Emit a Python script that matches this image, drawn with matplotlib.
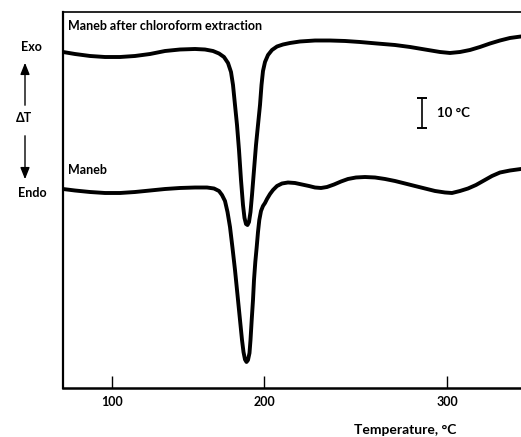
import numpy as np
import matplotlib
matplotlib.use("Agg")
import matplotlib.pyplot as plt

# ---- data (temperature in °C, signal in ΔT units) ----
temp_ext = [67.76, 75.66, 85.53, 95.39, 105.26, 115.13, 125.0, 134.87, 144.74,
            154.61, 161.18, 166.45, 170.39, 173.68, 176.32, 178.29, 179.61,
            180.92, 182.24, 183.55, 184.87, 186.18, 187.17, 188.16, 189.14,
            190.13, 191.12, 192.11, 193.42, 194.74, 196.05, 197.37, 198.36,
            199.34, 200.55, 202.19, 204.37, 207.10, 210.38, 214.21, 219.67,
            227.87, 236.07, 244.26, 252.46, 261.75, 271.58, 279.78, 287.98,
            296.17, 301.64, 307.10, 312.57, 318.03, 323.50, 328.96, 334.43,
            340.44]
dt_ext = [112.0, 111.33, 110.67, 110.33, 110.33, 110.67, 111.33, 112.33, 112.83,
          113.0, 112.83, 112.33, 111.5, 110.33, 108.33, 105.33, 101.0,
          94.33, 87.67, 79.33, 69.33, 61.0, 56.67, 54.67, 54.33,
          55.33, 58.67, 64.33, 72.67, 81.0, 87.67, 94.33, 101.0,
          105.67, 108.67, 111.0, 112.67, 113.83, 114.5, 115.0, 115.5,
          115.83, 115.83, 115.67, 115.33, 114.83, 114.33, 113.67, 112.83,
          112.0, 111.67, 112.0, 112.67, 113.67, 114.83, 115.83, 116.67,
          117.17]

temp_maneb = [67.76, 75.66, 85.53, 95.39, 105.26, 115.13, 125.0, 134.87, 144.74,
              154.61, 162.5, 167.11, 170.39, 172.37, 174.34, 175.99, 177.63,
              179.28, 180.92, 182.57, 184.21, 185.53, 186.51, 187.5, 188.49,
              189.47, 190.46, 191.12, 191.91, 192.76, 193.42, 194.28, 195.20,
              196.05, 196.91, 198.03, 199.34, 200.55, 201.64, 203.28, 204.92,
              207.10, 209.84, 213.11, 216.94, 220.77, 224.59, 227.87, 231.15,
              234.43, 238.25, 242.08, 245.90, 250.27, 255.19, 260.66, 266.12,
              271.58, 277.05, 282.51, 287.98, 293.44, 298.91, 302.73, 307.10,
              311.48, 315.85, 320.22, 324.59, 328.96, 334.43, 340.44]
dt_maneb = [66.33, 65.83, 65.33, 65.0, 65.0, 65.33, 65.83, 66.33, 66.67,
            66.83, 66.83, 66.5, 65.67, 64.33, 62.33, 58.67, 53.67,
            46.67, 39.33, 31.0, 22.67, 16.0, 12.0, 9.5, 8.67,
            9.33, 11.67, 16.0, 22.67, 29.33, 36.0, 42.0, 47.0,
            52.0, 56.0, 59.0, 60.67, 61.67, 63.0, 64.67, 66.0,
            67.33, 68.17, 68.5, 68.33, 67.83, 67.33, 66.83, 66.67,
            67.0, 67.83, 68.83, 69.67, 70.17, 70.33, 70.17, 69.67,
            69.0, 68.17, 67.33, 66.5, 65.67, 65.17, 65.0, 65.67,
            66.5, 67.67, 69.17, 70.67, 71.83, 72.5, 73.0]

tick_values = [100, 200, 300]
scale_bar = 10  # °C


# ---- non-uniform temperature axis of the original figure ----
def fwd(t):
    t = np.asarray(t, float)
    return np.where(t < 200, 112 + (t - 100) * 1.52, 264 + (t - 200) * 1.83)


def inv(p):
    p = np.asarray(p, float)
    return np.where(p < 264, 100 + (p - 112) / 1.52, 200 + (p - 264) / 1.83)


plt.rcParams['font.family'] = ['Lato', 'DejaVu Sans']
plt.rcParams['font.weight'] = 'bold'

fig = plt.figure(figsize=(5.21, 4.37), dpi=100)
ax = fig.add_axes([63 / 521, 49 / 437, 458 / 521, 376 / 437])
ax.set_xscale('function', functions=(fwd, inv))

lw = 2.8
for tx, ty in ((temp_ext, dt_ext), (temp_maneb, dt_maneb)):
    ax.plot(tx, ty, color='black', lw=lw, solid_capstyle='round',
            solid_joinstyle='round')

ax.set_xlim(67.76, 340.44)
ax.set_ylim(0, 125.33)

ax.set_xticks(tick_values)
ax.set_xticklabels([str(v) for v in tick_values])
ax.tick_params(axis='x', direction='in', length=9, width=1.0, pad=6,
               labelsize=9)
ax.set_yticks([])

ax.spines['right'].set_visible(False)
ax.spines['left'].set_linewidth(1.6)
ax.spines['bottom'].set_linewidth(1.8)
ax.spines['top'].set_linewidth(1.2)

# scale bar
xb = 286.3
yb0 = 86.7
ax.plot([xb, xb], [yb0, yb0 + scale_bar], color='black', lw=1.2)
ax.plot([xb, xb], [yb0, yb0 + scale_bar], color='black', lw=0,
        marker='_', markersize=7, markeredgewidth=1.4)
ax.text(294.5, yb0 + scale_bar / 2, '10 °C', fontsize=9.5, va='center',
        ha='left')

# curve labels
ax.text(71.1, 120.8, 'Maneb after chloroform extraction', fontsize=9,
        va='center', ha='left')
ax.text(71.1, 72.7, 'Maneb', fontsize=9, va='center', ha='left')


# left side annotations
def fy(py):
    return 1 - py / 437


fig.text(31 / 521, fy(47), 'Exo', fontsize=9, ha='center', va='center')
fig.text(32 / 521, fy(193), 'Endo', fontsize=9, ha='center', va='center')
fig.text(24 / 521, fy(118), 'ΔT', fontsize=9, ha='center', va='center')
arrow_style = dict(arrowstyle='-|>,head_length=0.7,head_width=0.28',
                   color='black', lw=1.0)
ax.annotate('', xy=(25 / 521, fy(60)), xytext=(25 / 521, fy(108)),
            xycoords='figure fraction', textcoords='figure fraction',
            arrowprops=arrow_style, annotation_clip=False)
ax.annotate('', xy=(25 / 521, fy(182)), xytext=(25 / 521, fy(133)),
            xycoords='figure fraction', textcoords='figure fraction',
            arrowprops=arrow_style, annotation_clip=False)

fig.text(405 / 521, fy(430), 'Temperature, °C', fontsize=10, ha='center',
         va='center')

fig.savefig('out.png', dpi=100)
